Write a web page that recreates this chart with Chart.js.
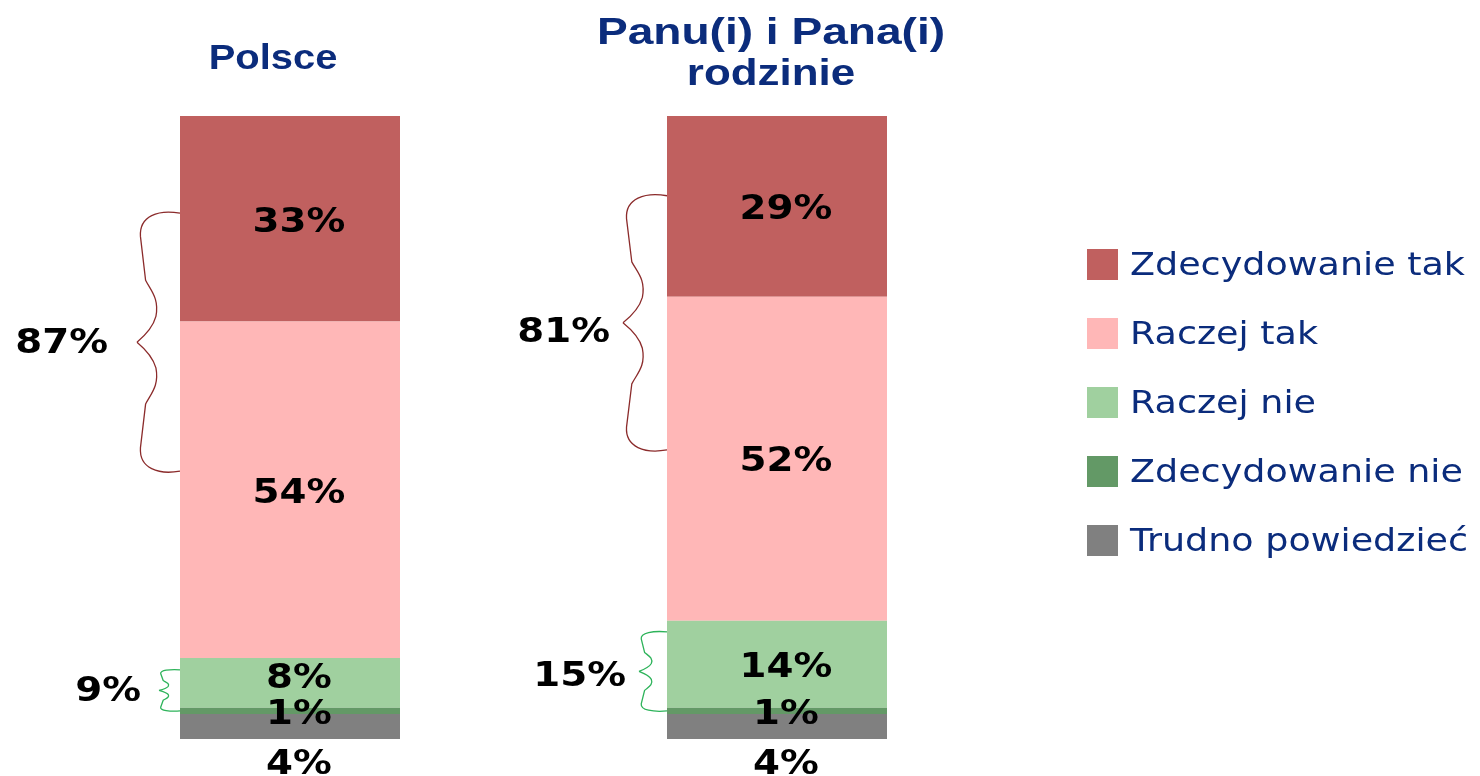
<!DOCTYPE html>
<html>
<head>
<meta charset="utf-8">
<script src="https://cdn.jsdelivr.net/npm/chart.js@4"></script>
<style>
    body { margin: 0; background: #fff; }
    #wrap { width: 1480px; height: 776px; position: relative; }
</style>
</head>
<body>
<div id="wrap"><canvas id="ankietaChart"></canvas></div>
<script>
// Data
const categories = ["Polsce", ["Panu(i) i Pana(i)", "rodzinie"]];
const seriesNames = ["Zdecydowanie tak", "Raczej tak", "Raczej nie", "Zdecydowanie nie", "Trudno powiedzieć"];
const zdecydowanieTak = [33, 29];
const raczejTak = [54, 52];
const raczejNie = [8, 14];
const zdecydowanieNie = [1, 1];
const trudnoPowiedziec = [4, 4];

const colors = ["#c0605f", "#ffb7b7", "#a0d09f", "#639966", "#808080"];
const textBlue = "#0b2c7c";

// sums shown next to the braces
const sumTak = zdecydowanieTak.map((v, i) => v + raczejTak[i]);
const sumNie = raczejNie.map((v, i) => v + zdecydowanieNie[i]);

// helper: text slightly stretched horizontally like in the original
function drawText(ctx, text, x, y, sx, align) {
    ctx.save();
    ctx.translate(x, y);
    ctx.scale(sx, 1);
    ctx.textAlign = align;
    ctx.fillText(text, 0, 0);
    ctx.restore();
}

// curly brace, opening to the right, xR = right end, d = depth
function drawBrace(ctx, xR, yT, yB, d) {
    const hh = (yB - yT) / 2;
    const half = function (s) {
        const y0 = s > 0 ? yT : yB;
        const Y = (f) => y0 + s * f * hh;
        ctx.moveTo(xR, Y(0));
        ctx.bezierCurveTo(xR - 0.5 * d, Y(-0.03), xR - 0.95 * d, Y(0.02), xR - 0.92 * d, Y(0.18));
        ctx.lineTo(xR - 0.8 * d, Y(0.52));
        ctx.bezierCurveTo(xR - 0.68 * d, Y(0.6), xR - 0.48 * d, Y(0.66), xR - 0.56 * d, Y(0.8));
        ctx.quadraticCurveTo(xR - 0.64 * d, Y(0.9), xR - d, Y(1));
    };
    ctx.beginPath();
    half(1);
    half(-1);
    ctx.stroke();
}

// braces in value units of the y scale
const braces = [
    { bar: 0, from: 84.4, to: 43.0, depth: 43, color: "#8b2b2b", text: sumTak[0] + "%", gap: 29, dy: 2 },
    { bar: 1, from: 87.2, to: 46.4, depth: 44, color: "#8b2b2b", text: sumTak[1] + "%", gap: 13, dy: 10 },
    { bar: 0, from: 11.1, to: 4.5, depth: 21, color: "#2db35a", text: sumNie[0] + "%", gap: 18, dy: 2 },
    { bar: 1, from: 17.2, to: 4.5, depth: 28, color: "#2db35a", text: sumNie[1] + "%", gap: 13, dy: 6 }
];

const decorPlugin = {
    id: "decor",
    afterDatasetsDraw(chart) {
        const ctx = chart.ctx;
        const x = chart.scales.x;
        const y = chart.scales.y;
        const nSets = chart.data.datasets.length;

        ctx.save();
        ctx.textBaseline = "middle";
        ctx.fillStyle = "#000";
        ctx.font = "bold 34px 'DejaVu Sans'";

        // segment labels
        chart.data.datasets.forEach(function (ds, i) {
            const meta = chart.getDatasetMeta(i);
            meta.data.forEach(function (bar, j) {
                const v = ds.data[j];
                let cy = (bar.y + bar.base) / 2 + 4;
                if (i === 0) cy = bar.base + 26;
                else if (v > 1 && v < 10) cy -= 8;
                drawText(ctx, v + "%", bar.x + 9, cy, 1.14, "center");
            });
        });

        // braces and their totals
        const barW = chart.getDatasetMeta(0).data[0].width;
        braces.forEach(function (b) {
            const xR = x.getPixelForValue(b.bar) - barW / 2;
            const yT = y.getPixelForValue(b.from);
            const yB = y.getPixelForValue(b.to);
            ctx.strokeStyle = b.color;
            ctx.lineWidth = 1.3;
            drawBrace(ctx, xR, yT, yB, b.depth);
            drawText(ctx, b.text, xR - b.depth - b.gap, (yT + yB) / 2 + b.dy, 1.14, "right");
        });

        // titles above bars
        ctx.fillStyle = textBlue;
        ctx.textBaseline = "alphabetic";
        const titleDx = [-17, -6];
        categories.forEach(function (c, j) {
            const lines = Array.isArray(c) ? c : [c];
            const cx = x.getPixelForValue(j) + titleDx[j];
            if (lines.length === 1) {
                ctx.font = "bold 35px 'Liberation Sans'";
                drawText(ctx, lines[0], cx, 69, 1.14, "center");
            } else {
                ctx.font = "bold 36px 'Liberation Sans'";
                drawText(ctx, lines[0], cx, 44, 1.28, "center");
                drawText(ctx, lines[1], cx, 85, 1.22, "center");
            }
        });

        // legend (top to bottom = top of stack to bottom)
        ctx.font = "32px 'DejaVu Sans'";
        ctx.textBaseline = "middle";
        for (let k = 0; k < nSets; k++) {
            const ds = chart.data.datasets[nSets - 1 - k];
            const sy = 249 + k * 69;
            ctx.fillStyle = ds.backgroundColor;
            ctx.fillRect(1087, sy, 31, 31);
            ctx.fillStyle = textBlue;
            drawText(ctx, ds.label, 1130, sy + 18, 1.14, "left");
        }
        ctx.restore();
    }
};

const chart1 = document.getElementById("ankietaChart");

new Chart(chart1, {
    type: "bar",
    data: {
        labels: categories,
        datasets: [
            { label: seriesNames[4], data: trudnoPowiedziec, backgroundColor: colors[4] },
            { label: seriesNames[3], data: zdecydowanieNie, backgroundColor: colors[3] },
            { label: seriesNames[2], data: raczejNie, backgroundColor: colors[2] },
            { label: seriesNames[1], data: raczejTak, backgroundColor: colors[1] },
            { label: seriesNames[0], data: zdecydowanieTak, backgroundColor: colors[0] }
        ]
    },
    options: {
        responsive: true,
        maintainAspectRatio: false,
        animation: false,
        layout: { padding: { left: 46.5, right: 459.5, top: 116, bottom: 37 } },
        datasets: { bar: { barPercentage: 220 / 487, categoryPercentage: 1, borderWidth: 0 } },
        scales: {
            x: { stacked: true, display: false },
            y: { stacked: true, display: false, min: 0, max: 100 }
        },
        plugins: {
            legend: { display: false },
            title: { display: false },
            tooltip: { enabled: false }
        }
    },
    plugins: [decorPlugin]
});
</script>
</body>
</html>
